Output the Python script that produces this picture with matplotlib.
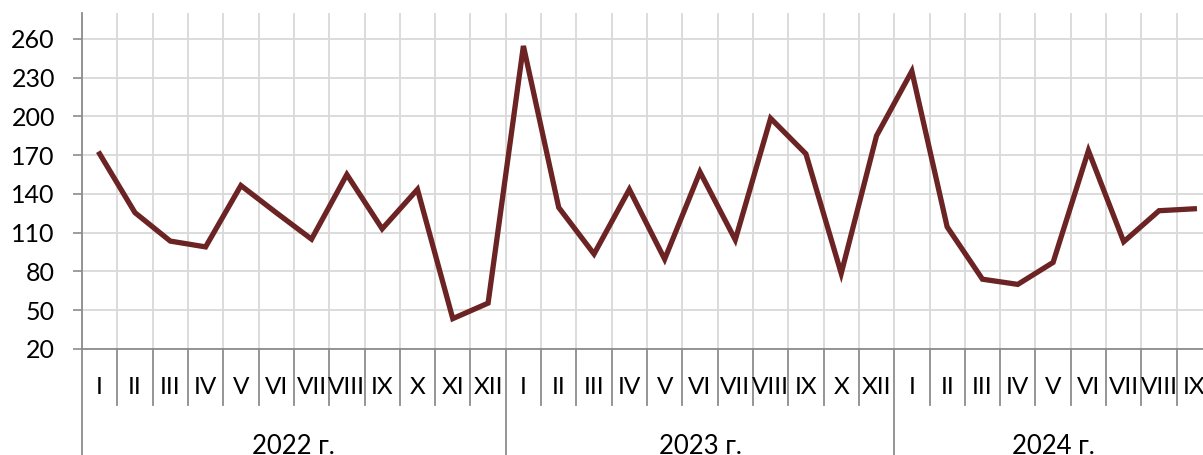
import matplotlib.pyplot as plt
import matplotlib.transforms as mtransforms

# Данные
years = ['2022 г.', '2023 г.', '2024 г.']
months_2022 = ['I', 'II', 'III', 'IV', 'V', 'VI', 'VII', 'VIII', 'IX', 'X', 'XI', 'XII']
months_2023 = ['I', 'II', 'III', 'IV', 'V', 'VI', 'VII', 'VIII', 'IX', 'X', 'XII']
months_2024 = ['I', 'II', 'III', 'IV', 'V', 'VI', 'VII', 'VIII', 'IX']
values_2022 = [171, 125.5, 103.5, 99, 146.5, 125.5, 105, 155, 113, 143.5, 43.5, 55.5]
values_2023 = [254.5, 129.5, 93.5, 143.5, 89.5, 157, 104.5, 198.5, 171, 78.5, 185]
values_2024 = [235, 114.5, 74, 70, 87, 173.5, 103, 127, 128.5]

labels = months_2022 + months_2023 + months_2024
values = values_2022 + values_2023 + values_2024
group_sizes = [len(months_2022), len(months_2023), len(months_2024)]
x = list(range(len(values)))

plt.rcParams['font.family'] = ['Lato', 'DejaVu Sans']

W, H = 1203, 455
fig = plt.figure(figsize=(W / 100, H / 100), dpi=100)
left, right, bottom, top = 82, 1212, 349, 13
ax = fig.add_axes([left / W, (H - bottom) / H, (right - left) / W, (bottom - top) / H])

grid_c = '#d9d9d9'
axis_c = '#8c8c8c'

ax.plot(x, values, color='#6b2323', linewidth=3.8, solid_joinstyle='miter', zorder=3)

ax.set_xlim(-0.5, len(values) - 0.5)
ax.set_ylim(20, 280)
ax.set_yticks(range(20, 261, 30))
ax.set_xticks([i - 0.5 for i in range(len(values) + 1)])
ax.set_xticklabels([])
ax.tick_params(axis='x', length=0)
ax.tick_params(axis='y', length=6.5, color=axis_c, width=1.2, labelsize=18, pad=13)
ax.grid(True, color=grid_c, linewidth=1.3)
ax.set_axisbelow(True)

for s in ['top', 'right']:
    ax.spines[s].set_visible(False)
for s in ['left', 'bottom']:
    ax.spines[s].set_color(axis_c)
    ax.spines[s].set_linewidth(1.3)

# Подписи месяцев и разделители
trans = mtransforms.blended_transform_factory(ax.transData, ax.transAxes)
ah = bottom - top
for i, lab in enumerate(labels):
    ax.text(i, -38 / ah, lab, transform=trans, ha='center', va='center', fontsize=17.5)

bounds = [0]
for g in group_sizes:
    bounds.append(bounds[-1] + g)
for i in range(len(values) + 1):
    depth = -110 / ah if i in bounds else -56 / ah
    ax.plot([i - 0.5, i - 0.5], [0, depth], transform=trans, color=axis_c,
            linewidth=1.3, clip_on=False)

for k, year in enumerate(years):
    cx = (bounds[k] + bounds[k + 1]) / 2 - 0.5
    ax.text(cx, -97 / ah, year, transform=trans, ha='center', va='center', fontsize=18.5)

fig.savefig('out.png', dpi=100)
